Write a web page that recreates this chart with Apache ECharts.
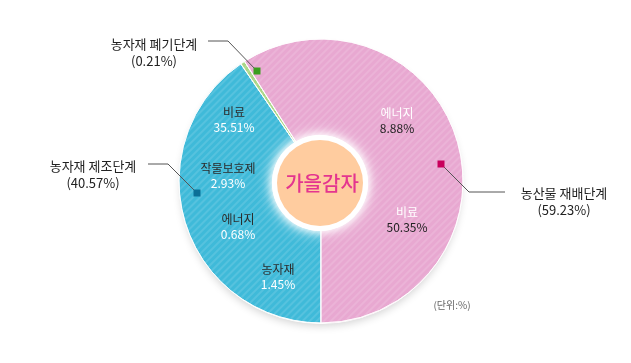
<!DOCTYPE html>
<html><head><meta charset="utf-8">
<script src="https://cdn.jsdelivr.net/npm/echarts@6/dist/echarts.min.js"></script>
<style>html,body{margin:0;padding:0;background:#fff}#c{width:631px;height:363px}</style>
</head><body><div id="c"></div>
<script>
// ---- data ----
const stageNames = ['농자재 제조단계', '농자재 폐기단계', '농산물 재배단계'];
const stageValues = [40.57, 0.21, 59.23];
const blueItemNames = ['비료', '작물보호제', '에너지', '농자재'];
const blueItemValues = [35.51, 2.93, 0.68, 1.45];
const pinkItemNames = ['에너지', '비료'];
const pinkItemValues = [8.88, 50.35];
const centerTitle = '가을감자';
const unitText = '(단위:%)';

// ---- styles / layout ----
const FONT = '"Noto Sans CJK KR", "Noto Sans", sans-serif';
const sliceColors = ['#3fbad9', '#a9d686', '#e8a8d1'];
const markerColors = ['#0b7098', '#3a9e1e', '#c8005c'];
const CX = 321, CY = 181, R = 142;
const blueLabelPos = [[234, 112], [228, 168], [238, 219], [278, 269]];
const pinkLabelPos = [[397, 113], [407, 212]];
const outerLabelPos = [[93, 166], [154, 44], [564, 193]];
const leaderPts = [
  [[148, 164], [168, 164], [197, 193]],
  [[208, 41], [228, 41], [257, 71]],
  [[505, 192], [469, 192], [441, 164]]
];

const chart = echarts.init(document.getElementById('c'), null, {renderer: 'canvas'});
const decal = {
  symbol: 'rect', symbolSize: 1, dashArrayX: [[1, 0]], dashArrayY: [2, 3],
  rotation: -Math.PI / 4, color: 'rgba(255,255,255,0.12)'
};

const graphics = [];
// soft shadow under the pie
graphics.push({type: 'circle', shape: {cx: CX, cy: CY + 3, r: R - 2}, z: 1,
  style: {fill: '#fff', shadowBlur: 8, shadowOffsetY: 2, shadowColor: 'rgba(0,0,0,0.18)'}});
// inner circles
graphics.push({type: 'circle', shape: {cx: CX - 1, cy: CY + 2, r: 48}, z: 10,
  style: {fill: '#fff', shadowBlur: 16, shadowColor: 'rgba(255,255,255,1)'}});
graphics.push({type: 'circle', shape: {cx: CX - 1, cy: CY + 2, r: 48}, z: 10,
  style: {fill: '#fff', shadowBlur: 8, shadowColor: 'rgba(255,255,255,1)'}});
graphics.push({type: 'circle', shape: {cx: CX - 1, cy: CY + 2, r: 43}, z: 11,
  style: {fill: '#ffcc9f'}});
graphics.push({type: 'text', x: CX + 1, y: CY + 2, z: 12,
  style: {text: centerTitle, font: '500 20px ' + FONT, fill: '#e4358f', align: 'center', verticalAlign: 'middle'}});

function itemLabel(name, value, pos, nameColor, valueColor) {
  graphics.push({type: 'text', x: pos[0], y: pos[1], z: 12,
    style: {text: name, font: '12px ' + FONT, fill: nameColor, align: 'center', verticalAlign: 'middle'}});
  graphics.push({type: 'text', x: pos[0], y: pos[1] + 15, z: 12,
    style: {text: value.toFixed(2) + '%', font: '12px ' + FONT, fill: valueColor, align: 'center', verticalAlign: 'middle'}});
}
blueItemNames.forEach((n, i) => itemLabel(n, blueItemValues[i], blueLabelPos[i], '#2b2b2b', '#fff'));
pinkItemNames.forEach((n, i) => itemLabel(n, pinkItemValues[i], pinkLabelPos[i], '#fff', '#222'));

stageNames.forEach((n, i) => {
  graphics.push({type: 'polyline', z: 12, shape: {points: leaderPts[i]},
    style: {stroke: '#555', lineWidth: 1, fill: null}});
  const m = leaderPts[i][2];
  graphics.push({type: 'rect', z: 13, shape: {x: m[0] - 3.5, y: m[1] - 3.5, width: 7, height: 7},
    style: {fill: markerColors[i]}});
  const p = outerLabelPos[i];
  graphics.push({type: 'text', x: p[0], y: p[1], z: 12,
    style: {text: n, font: '13px ' + FONT, fill: '#222', align: 'center', verticalAlign: 'middle'}});
  graphics.push({type: 'text', x: p[0], y: p[1] + 17, z: 12,
    style: {text: '(' + stageValues[i].toFixed(2) + '%)', font: '13px ' + FONT, fill: '#222', align: 'center', verticalAlign: 'middle'}});
});
graphics.push({type: 'text', x: 452, y: 305, z: 12,
  style: {text: unitText, font: '10px ' + FONT, fill: '#666', align: 'center', verticalAlign: 'middle'}});

chart.setOption({
  animation: false,
  series: [{
    type: 'pie',
    center: [CX, CY],
    radius: [0, R],
    startAngle: 270,
    clockwise: true,
    minAngle: 1.8,
    label: {show: false},
    labelLine: {show: false},
    emphasis: {disabled: true},
    itemStyle: {borderColor: '#fff', borderWidth: 0.8},
    data: stageNames.map((n, i) => ({name: n, value: stageValues[i],
      itemStyle: {color: sliceColors[i], decal: decal}}))
  }],
  graphic: graphics
});
</script></body></html>
